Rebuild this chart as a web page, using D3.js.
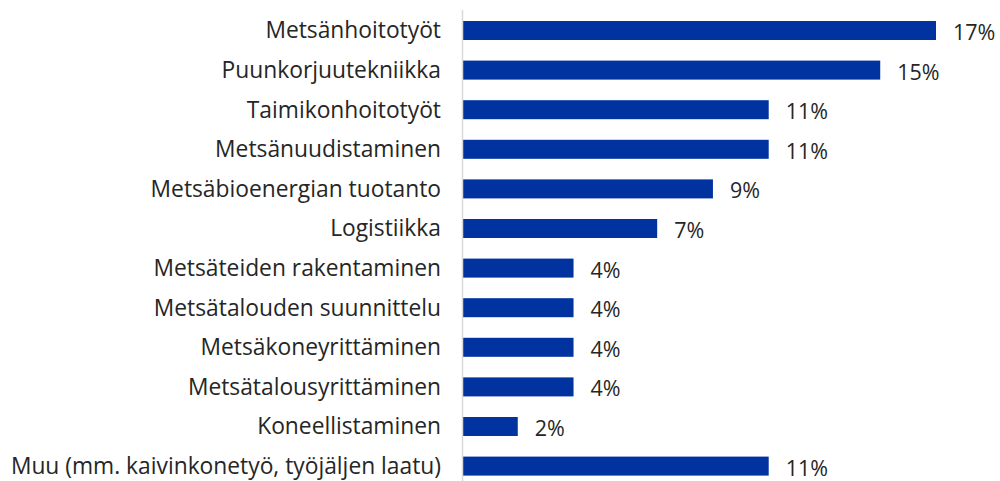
<!DOCTYPE html>
<html>
<head>
    <meta charset="utf-8">
    <title>Bars</title>
    <script src="https://cdn.jsdelivr.net/npm/d3@7"></script>
    <style>
        body { margin: 0; background: #fff; }
    </style>
</head>
<body>
    <svg width="1000" height="481" id="mainsvg"></svg>
    <script>
        const categories = [
            'Metsänhoitotyöt',
            'Puunkorjuutekniikka',
            'Taimikonhoitotyöt',
            'Metsänuudistaminen',
            'Metsäbioenergian tuotanto',
            'Logistiikka',
            'Metsäteiden rakentaminen',
            'Metsätalouden suunnittelu',
            'Metsäkoneyrittäminen',
            'Metsätalousyrittäminen',
            'Koneellistaminen',
            'Muu (mm. kaivinkonetyö, työjäljen laatu)'
        ];
        const values = [17, 15, 11, 11, 9, 7, 4, 4, 4, 4, 2, 11];

        const svg = d3.select('#mainsvg');
        const x0 = 462;
        const fontFamily = "'Open Sans', 'Noto Sans', sans-serif";

        const xScale = d3.scaleLinear()
            .domain([0, 17])
            .range([x0, 936]);

        const yScale = d3.scaleBand()
            .domain(categories)
            .range([10.7, 485.9])
            .paddingInner(0.52)
            .paddingOuter(0.26);

        // bars
        svg.selectAll('.bar').data(categories).join('rect')
            .attr('class', 'bar')
            .attr('x', xScale(0))
            .attr('y', d => yScale(d))
            .attr('width', (d, i) => xScale(values[i]) - xScale(0))
            .attr('height', yScale.bandwidth())
            .attr('fill', '#0033a0');

        // vertical axis line
        svg.append('line')
            .attr('x1', x0 + 0.5).attr('x2', x0 + 0.5)
            .attr('y1', 10).attr('y2', 481)
            .attr('stroke', '#d9d9d9')
            .attr('stroke-width', 1.5);

        // category labels
        svg.selectAll('.cat').data(categories).join('text')
            .attr('class', 'cat')
            .attr('x', 441)
            .attr('y', d => yScale(d) + yScale.bandwidth() / 2)
            .attr('dy', '0.35em')
            .attr('text-anchor', 'end')
            .attr('font-family', fontFamily)
            .attr('font-size', 22.8)
            .attr('fill', '#262626')
            .text(d => d);

        // value labels
        svg.selectAll('.val').data(categories).join('text')
            .attr('class', 'val')
            .attr('x', (d, i) => xScale(values[i]) + 17)
            .attr('y', d => yScale(d) + yScale.bandwidth() / 2 + 2)
            .attr('dy', '0.35em')
            .attr('font-family', fontFamily)
            .attr('font-size', 21.5)
            .attr('fill', '#262626')
            .text((d, i) => values[i] + '%');
    </script>
</body>
</html>
